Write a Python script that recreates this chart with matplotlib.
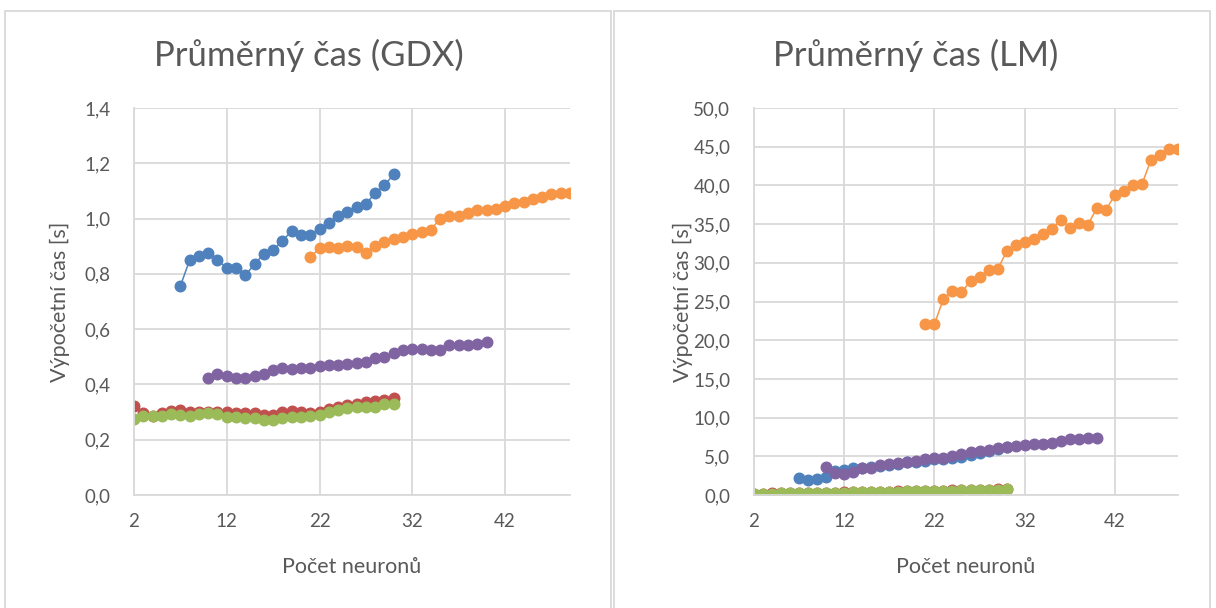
import matplotlib
matplotlib.use("Agg")
import matplotlib.pyplot as plt
from matplotlib.patches import Rectangle
from matplotlib.ticker import FuncFormatter

plt.rcParams['font.family'] = ['Lato', 'DejaVu Sans']

# barvy serii (Office paleta)
BLUE = "#4F81BD"
RED = "#C0504D"
GREEN = "#9BBB59"
PURPLE = "#8064A2"
ORANGE = "#F79646"
TXT = "#595959"
GRID = "#D9D9D9"

x_ticks = [2, 12, 22, 32, 42]

# ---- GDX ----
gdx_blue_x = list(range(7, 31))
gdx_blue = [0.756, 0.850, 0.864, 0.874, 0.850, 0.822, 0.822, 0.795, 0.835, 0.872,
            0.886, 0.920, 0.955, 0.941, 0.941, 0.963, 0.985, 1.010, 1.025, 1.041,
            1.053, 1.092, 1.121, 1.160]
gdx_red_x = list(range(2, 31))
gdx_red = [0.322, 0.295, 0.287, 0.295, 0.305, 0.307, 0.299, 0.299, 0.299, 0.299,
           0.299, 0.295, 0.295, 0.295, 0.289, 0.289, 0.301, 0.305, 0.299, 0.295,
           0.301, 0.311, 0.319, 0.325, 0.331, 0.335, 0.339, 0.343, 0.352]
gdx_green_x = list(range(2, 31))
gdx_green = [0.275, 0.287, 0.286, 0.286, 0.293, 0.288, 0.286, 0.293, 0.295, 0.293,
             0.283, 0.281, 0.277, 0.277, 0.273, 0.273, 0.278, 0.283, 0.283, 0.286,
             0.289, 0.299, 0.307, 0.313, 0.317, 0.319, 0.320, 0.329, 0.329]
gdx_purple_x = list(range(10, 41))
gdx_purple = [0.422, 0.437, 0.431, 0.425, 0.422, 0.430, 0.436, 0.454, 0.460, 0.455,
              0.458, 0.459, 0.465, 0.470, 0.470, 0.475, 0.478, 0.480, 0.495, 0.498,
              0.513, 0.525, 0.527, 0.527, 0.525, 0.525, 0.543, 0.543, 0.543, 0.546,
              0.555]
gdx_orange_x = list(range(21, 50))
gdx_orange = [0.860, 0.893, 0.897, 0.893, 0.902, 0.897, 0.875, 0.901, 0.914, 0.925,
              0.935, 0.943, 0.950, 0.960, 1.000, 1.008, 1.008, 1.021, 1.032, 1.032,
              1.036, 1.044, 1.057, 1.061, 1.072, 1.079, 1.088, 1.092, 1.094]

# ---- LM ----
lm_blue_x = list(range(7, 31))
lm_blue = [2.22, 1.96, 2.09, 2.30, 3.09, 3.26, 3.43, 3.50, 3.60, 3.70,
           3.90, 4.00, 4.20, 4.30, 4.45, 4.60, 4.70, 4.80, 4.95, 5.15,
           5.45, 5.65, 5.90, 6.15]
lm_red_x = list(range(2, 31))
lm_red = [0.17, 0.19, 0.21, 0.22, 0.24, 0.26, 0.27, 0.29, 0.31, 0.32,
          0.34, 0.36, 0.38, 0.40, 0.42, 0.44, 0.46, 0.48, 0.50, 0.52,
          0.54, 0.57, 0.59, 0.62, 0.64, 0.67, 0.70, 0.73, 0.76]
lm_green_x = list(range(2, 31))
lm_green = [0.15, 0.17, 0.19, 0.20, 0.22, 0.24, 0.25, 0.27, 0.29, 0.30,
            0.32, 0.34, 0.36, 0.38, 0.40, 0.42, 0.44, 0.46, 0.48, 0.50,
            0.52, 0.55, 0.57, 0.60, 0.62, 0.65, 0.68, 0.71, 0.74]
lm_purple_x = list(range(10, 41))
lm_purple = [3.57, 2.83, 2.74, 2.91, 3.43, 3.52, 3.87, 3.96, 4.09, 4.30,
             4.43, 4.61, 4.74, 4.83, 5.09, 5.35, 5.61, 5.74, 5.87, 6.04,
             6.15, 6.33, 6.46, 6.55, 6.63, 6.76, 6.98, 7.19, 7.27, 7.32,
             7.40]
lm_orange_x = list(range(21, 50))
lm_orange = [22.09, 22.09, 25.34, 26.38, 26.21, 27.63, 28.15, 29.09, 29.14, 31.47,
             32.24, 32.67, 33.06, 33.71, 34.31, 35.52, 34.53, 35.13, 34.91, 37.03,
             36.77, 38.79, 39.28, 40.05, 40.14, 43.28, 43.93, 44.70, 44.70]


def draw(ax, series, ymax, ystep, ylab_x):
    for xs, ys, c in series:
        ax.plot(xs, ys, color=c, lw=1.1, marker="o", ms=7.6, mec=c, mfc=c)
    ax.set_xlim(2, 49)
    ax.set_ylim(0, ymax)
    ax.set_xticks(x_ticks)
    yt = [i * ystep for i in range(int(round(ymax / ystep)) + 1)]
    ax.set_yticks(yt)
    ax.yaxis.set_major_formatter(FuncFormatter(lambda v, p: f"{v:.1f}".replace(".", ",")))
    ax.grid(True, color=GRID, lw=1.3)
    ax.set_axisbelow(True)
    for s in ["top", "right"]:
        ax.spines[s].set_visible(False)
    for s in ["left", "bottom"]:
        ax.spines[s].set_color(GRID)
        ax.spines[s].set_linewidth(1.3)
    ax.tick_params(length=0, labelsize=13.5, colors=TXT)
    ax.tick_params(axis="y", pad=17)
    ax.tick_params(axis="x", pad=13)
    ax.set_xlabel("Počet neuronů", fontsize=15.5, color=TXT, va="center")
    ax.set_ylabel("Výpočetní čas [s]", fontsize=15.5, color=TXT, va="center")
    ax.xaxis.set_label_coords(0.5, -0.186)
    ax.yaxis.set_label_coords(ylab_x, 0.5)


fig = plt.figure(figsize=(12.16, 6.08), dpi=100)

# ramecky grafu
fig.patches.append(Rectangle((5 / 1216, -0.01), 606 / 1216, 1 - 11 / 608 + 0.01,
                             transform=fig.transFigure, fill=False, ec=GRID, lw=1.3))
fig.patches.append(Rectangle((614 / 1216, -0.01), 596 / 1216, 1 - 11 / 608 + 0.01,
                             transform=fig.transFigure, fill=False, ec=GRID, lw=1.3))

ax1 = fig.add_axes([134 / 1216, 113 / 608, 436 / 1216, 387 / 608])
ax2 = fig.add_axes([754 / 1216, 113 / 608, 424 / 1216, 387 / 608])

draw(ax1, [(gdx_blue_x, gdx_blue, BLUE), (gdx_red_x, gdx_red, RED),
           (gdx_green_x, gdx_green, GREEN), (gdx_purple_x, gdx_purple, PURPLE),
           (gdx_orange_x, gdx_orange, ORANGE)], 1.4, 0.2, (60 - 134) / 436)
draw(ax2, [(lm_blue_x, lm_blue, BLUE), (lm_red_x, lm_red, RED),
           (lm_green_x, lm_green, GREEN), (lm_purple_x, lm_purple, PURPLE),
           (lm_orange_x, lm_orange, ORANGE)], 50, 5, (683 - 754) / 424)

fig.text(309 / 1216, 1 - 55 / 608, "Průměrný čas (GDX)", fontsize=25, color=TXT,
         ha="center", va="center")
fig.text(916 / 1216, 1 - 55 / 608, "Průměrný čas (LM)", fontsize=25, color=TXT,
         ha="center", va="center")

fig.savefig("out.png", dpi=100)
